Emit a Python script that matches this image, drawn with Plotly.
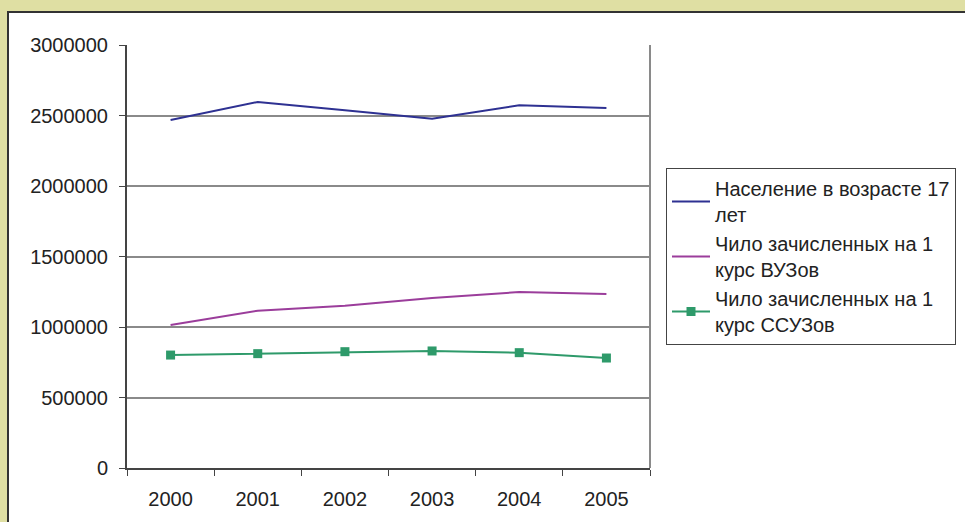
import plotly.graph_objects as go

years = ["2000", "2001", "2002", "2003", "2004", "2005"]
population_17 = [2468000, 2596000, 2537000, 2477000, 2572000, 2553000]
enrolled_vuz = [1014000, 1116000, 1151000, 1206000, 1248000, 1234000]
enrolled_ssuz = [801000, 811000, 825000, 830000, 818000, 780000]
series_names = [
    "Население в возрасте 17<br>лет",
    "Чило зачисленных на 1<br>курс ВУЗов",
    "Чило зачисленных на 1<br>курс ССУЗов",
]
y_ticks = [0, 500000, 1000000, 1500000, 2000000, 2500000, 3000000]

W, H = 965, 522
L, R, T, B = 127, 650, 45, 468
pw, ph = R - L, B - T

def px(x):
    return (x - L) / pw

def py(y):
    return (B - y) / ph

fig = go.Figure()
fig.add_trace(go.Scatter(x=years, y=population_17, name=series_names[0], mode="lines",
                         line=dict(color="#2e3192", width=2)))
fig.add_trace(go.Scatter(x=years, y=enrolled_vuz, name=series_names[1], mode="lines",
                         line=dict(color="#9b3d9b", width=2)))
fig.add_trace(go.Scatter(x=years, y=enrolled_ssuz, name=series_names[2], mode="lines+markers",
                         line=dict(color="#2e9a6a", width=2),
                         marker=dict(symbol="square", size=9, color="#2e9a6a")))

font = dict(family="Liberation Sans, Arial, sans-serif", size=20, color="#222222")

fig.update_layout(
    width=W, height=H,
    margin=dict(l=L, r=W - R, t=T, b=H - B, autoexpand=False),
    paper_bgcolor="#dfdfa3",
    plot_bgcolor="rgba(0,0,0,0)",
    font=font,
    showlegend=True,
    legend=dict(
        xref="container", yref="container",
        x=666 / W, y=1 - 168 / H, xanchor="left", yanchor="top",
        bgcolor="white", bordercolor="#444444", borderwidth=1,
        font=font, tracegroupgap=1, itemwidth=38,
    ),
    xaxis=dict(
        type="category", range=[-0.5, 5.5], tickson="boundaries",
        ticks="outside", ticklen=6, tickcolor="#444444",
        showline=True, linecolor="#444444", linewidth=2,
        showgrid=False, zeroline=False, ticklabelstandoff=12,
    ),
    yaxis=dict(
        range=[0, 3000000], tickvals=y_ticks, tickformat="d",
        ticks="outside", ticklen=6, tickcolor="#444444",
        showline=True, linecolor="#444444", linewidth=2,
        showgrid=True, gridcolor="#8a8a8a", gridwidth=2,
        zeroline=False, ticklabelstandoff=7,
    ),
    shapes=[
        dict(type="rect", xref="paper", yref="paper", layer="below",
             x0=px(8), x1=px(990), y0=py(540), y1=py(12),
             fillcolor="white", line=dict(color="#333333", width=2)),
        dict(type="line", xref="paper", yref="paper", layer="above",
             x0=1, x1=1, y0=0, y1=1, line=dict(color="#8a8a8a", width=2)),
    ],
)

fig.write_html("out.html", config={"displayModeBar": False},
               post_script="document.body.style.margin='0';")
